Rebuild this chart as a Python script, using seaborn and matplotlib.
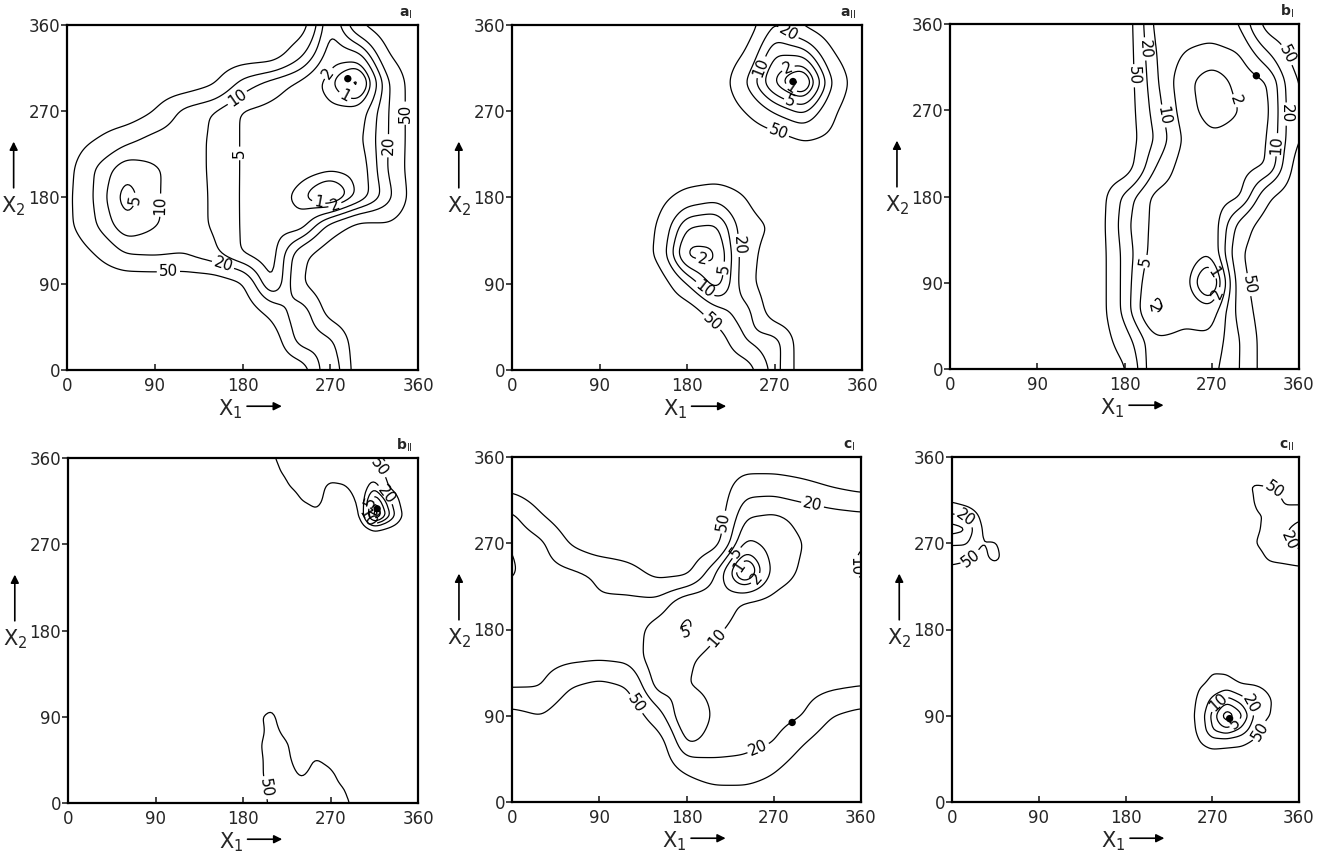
import numpy as np
import matplotlib
matplotlib.use('Agg')
import matplotlib.pyplot as plt
import seaborn as sns

# energy contour maps (kcal/mol) over the two torsion angles, 6 panels
LEVELS = [0, 1, 2, 5, 10, 20, 50]
HIGH = 100

# %%%%%%%%%%%%%%%%%%%%%%%%%%%%%%%%%%%%%%%%%%%%%%%%%%%%%%%%%%%%%%%%%%%%%%%%%%%%%
#                         DATA
# %%%%%%%%%%%%%%%%%%%%%%%%%%%%%%%%%%%%%%%%%%%%%%%%%%%%%%%%%%%%%%%%%%%%%%%%%%%%%
# 30 deg grids, rows from x2 = 360 (top) down to x2 = 0, columns x1 = 0..360
grid_a1 = [
    [100, 100, 100, 100, 100, 100, 100, 100, 100, 4, 50, 100, 100],
    [100, 100, 100, 100, 100, 100, 100, 100, 25, 3, 4, 55, 100],
    [100, 100, 100, 100, 100, 60, 15, 7, 4, 1.2, -0.6, 20, 100],
    [100, 100, 100, 50, 15, 9.5, 4.5, 4, 3.5, 2.5, 3, 20, 100],
    [80, 50, 25, 14, 12, 9.5, 4.5, 4, 5, 3, 4, 20, 100],
    [70, 18, 6, 9.5, 12, 9.5, 4.5, 4, 3, 2.5, 2.5, 22, 100],
    [65, 17, 3, 9.5, 13, 9.5, 4.5, 3.5, 1.2, -0.4, 2.5, 15, 100],
    [65, 20, 6, 9.5, 13, 9.5, 4.5, 4, 3, 30, 80, 60, 100],
    [100, 50, 20, 18, 20, 12, 4.5, 3, 40, 100, 100, 100, 100],
    [100, 100, 100, 100, 100, 100, 60, 3.5, 50, 100, 100, 100, 100],
    [100, 100, 100, 100, 100, 100, 100, 40, 10, 80, 100, 100, 100],
    [100, 100, 100, 100, 100, 100, 100, 100, 12, 15, 100, 100, 100],
    [100, 100, 100, 100, 100, 100, 100, 100, 100, 8, 100, 100, 100],
]
grid_a2 = [
    [100, 100, 100, 100, 100, 100, 100, 100, 100, 18, 60, 100, 100],
    [100, 100, 100, 100, 100, 100, 100, 100, 50, 5, 6, 50, 100],
    [100, 100, 100, 100, 100, 100, 100, 100, 20, 1.5, -0.6, 22, 100],
    [100, 100, 100, 100, 100, 100, 100, 100, 50, 18, 8, 45, 100],
    [100, 100, 100, 100, 100, 100, 100, 100, 100, 80, 50, 60, 100],
    [100, 100, 100, 100, 100, 100, 100, 100, 100, 100, 100, 100, 100],
    [100, 100, 100, 100, 100, 70, 35, 25, 50, 100, 100, 100, 100],
    [100, 100, 100, 100, 100, 50, 5, 4, 35, 55, 100, 100, 100],
    [100, 100, 100, 100, 100, 45, 1, 1.5, 35, 80, 100, 100, 100],
    [100, 100, 100, 100, 100, 100, 20, 2.5, 35, 100, 100, 100, 100],
    [100, 100, 100, 100, 100, 100, 100, 30, 12, 100, 100, 100, 100],
    [100, 100, 100, 100, 100, 100, 100, 100, 18, 12, 100, 100, 100],
    [100, 100, 100, 100, 100, 100, 100, 100, 100, 12, 100, 100, 100],
]
grid_b1 = [
    [100, 100, 100, 100, 100, 100, 100, 8, 7, 7, 10, 100, 100],
    [100, 100, 100, 100, 100, 100, 100, 10, 5, 4, 5, 20, 100],
    [100, 100, 100, 100, 100, 100, 100, 12, 3, 0.8, 3, 5, 60],
    [100, 100, 100, 100, 100, 100, 100, 15, 3.5, 1.0, 2, 4.5, 55],
    [100, 100, 100, 100, 100, 100, 100, 20, 4.5, 2.5, 3, 5, 55],
    [100, 100, 100, 100, 100, 100, 100, 10, 3.5, 3.5, 4, 5, 100],
    [100, 100, 100, 100, 100, 100, 15, 4, 3.5, 3.5, 4, 50, 100],
    [100, 100, 100, 100, 100, 100, 12, 4, 3.5, 2.5, 30, 100, 100],
    [100, 100, 100, 100, 100, 100, 15, 3.5, 3.5, 2, 50, 100, 100],
    [100, 100, 100, 100, 100, 100, 15, 2, 3.5, -0.5, 40, 100, 100],
    [100, 100, 100, 100, 100, 100, 15, 1.2, 4, 3, 30, 100, 100],
    [100, 100, 100, 100, 100, 100, 30, 6, 6, 6, 20, 100, 100],
    [100, 100, 100, 100, 100, 100, 60, 5, 7, 8, 20, 100, 100],
]
grid_c1 = [
    [100, 100, 100, 100, 100, 100, 100, 100, 100, 100, 100, 100, 100],
    [70, 100, 100, 100, 100, 100, 100, 100, 30, 30, 40, 55, 70],
    [17, 50, 100, 100, 100, 100, 100, 100, 11, 9, 12, 15, 17],
    [10, 16, 55, 100, 100, 100, 100, 80, 4, 7, 10, 13, 10],
    [9, 15, 17, 22, 35, 70, 70, 10, -0.6, 7, 11, 13, 9],
    [13, 15, 16, 19, 17, 17, 5.5, 6, 11, 12, 13, 13, 13],
    [14, 15, 16, 17, 15, 7, 4, 9, 13, 14, 15, 15, 14],
    [15, 15, 16, 17, 16, 6, 9, 13, 14, 15, 16, 17, 15],
    [18, 19, 50, 70, 50, 7, 10, 12, 13, 14, 15, 17, 19],
    [70, 50, 100, 100, 100, 30, 4, 12, 13, 14, 19, 50, 70],
    [100, 100, 100, 100, 100, 100, 9, 14, 16, 20, 50, 100, 100],
    [100, 100, 100, 100, 100, 100, 50, 30, 30, 50, 100, 100, 100],
    [100, 100, 100, 100, 100, 100, 100, 100, 100, 100, 100, 100, 100],
]

# 15 deg lattice, only the nodes below the "high" level: (x1, x2, energy)
nodes_b2 = [
    (210, 360, 52), (225, 360, 42), (240, 360, 40), (255, 360, 40), (270, 360, 40),
    (285, 360, 40), (300, 360, 32), (315, 360, 55),
    (210, 345, 60), (225, 345, 44), (240, 345, 40), (255, 345, 40), (270, 345, 41),
    (285, 345, 40), (300, 345, 25), (315, 345, 35), (330, 345, 65),
    (225, 330, 52), (240, 330, 43), (255, 330, 42), (270, 330, 55), (285, 330, 52),
    (300, 330, 40), (315, 330, 12), (330, 330, 55),
    (225, 315, 70), (240, 315, 50), (255, 315, 44), (270, 315, 60), (285, 315, 65),
    (300, 315, 45), (315, 315, 1.5), (330, 315, 15), (345, 315, 80),
    (240, 300, 70), (255, 300, 55), (270, 300, 65), (285, 300, 80), (300, 300, 55),
    (315, 300, -0.3), (330, 300, 8), (345, 300, 60),
    (315, 285, 50), (330, 285, 70),
    (195, 0, 60), (210, 0, 46), (225, 0, 42), (240, 0, 42), (255, 0, 42), (270, 0, 42),
    (285, 0, 46), (300, 0, 60),
    (195, 15, 58), (210, 15, 44), (225, 15, 42), (240, 15, 44), (255, 15, 44),
    (270, 15, 44), (285, 15, 50), (300, 15, 70),
    (195, 30, 55), (210, 30, 43), (225, 30, 44), (240, 30, 52), (255, 30, 45),
    (270, 30, 46), (285, 30, 60),
    (195, 45, 54), (210, 45, 44), (225, 45, 46), (240, 45, 60), (255, 45, 48),
    (270, 45, 55), (285, 45, 80),
    (195, 60, 52), (210, 60, 44), (225, 60, 47), (240, 60, 70), (255, 60, 70), (270, 60, 80),
    (195, 75, 55), (210, 75, 45), (225, 75, 55), (240, 75, 80),
    (195, 90, 52), (210, 90, 46), (225, 90, 65),
    (195, 105, 60), (210, 105, 55), (225, 105, 80),
]
nodes_c2 = [
    (0, 315, 60), (0, 300, 18), (0, 285, 7), (0, 270, 18), (0, 255, 35), (0, 240, 70),
    (15, 315, 80), (15, 300, 25), (15, 285, 9), (15, 270, 18), (15, 255, 40), (15, 240, 85),
    (30, 300, 60), (30, 285, 48), (30, 270, 50), (30, 255, 70),
    (45, 270, 45), (45, 255, 35),
    (360, 315, 70), (360, 300, 25), (360, 285, 15), (360, 270, 15), (360, 255, 30), (360, 240, 70),
    (345, 315, 60), (345, 300, 35), (345, 285, 22), (345, 270, 22), (345, 255, 35), (345, 240, 80),
    (330, 330, 55), (330, 315, 18), (330, 300, 45), (330, 285, 35), (330, 270, 30),
    (330, 255, 40), (330, 240, 90),
    (315, 330, 45), (315, 315, 45), (315, 300, 55), (315, 285, 60), (315, 270, 50), (315, 255, 80),
    (300, 330, 60),
    (255, 60, 60), (270, 60, 35), (285, 60, 40), (300, 60, 45), (315, 60, 70),
    (255, 75, 45), (270, 75, 10), (285, 75, 6), (300, 75, 12), (315, 75, 35),
    (255, 90, 40), (270, 90, 8), (285, 90, 0.5), (300, 90, 4), (315, 90, 25), (330, 90, 50),
    (255, 105, 45), (270, 105, 15), (285, 105, 6), (300, 105, 12), (315, 105, 30), (330, 105, 45),
    (255, 120, 55), (270, 120, 35), (285, 120, 25), (300, 120, 40), (315, 120, 45), (330, 120, 60),
    (270, 135, 50), (285, 135, 55),
]

panel_names = ['a$_{\\rm I}$', 'a$_{\\rm II}$', 'b$_{\\rm I}$',
               'b$_{\\rm II}$', 'c$_{\\rm I}$', 'c$_{\\rm II}$']
# marked conformations (filled dots)
dot_x1 = [288, 289, 316, 318, 289, 288]
dot_x2 = [304, 301, 306, 307, 83, 87]
ticks = [0, 90, 180, 270, 360]


def dense(rows):
    # rows are listed top (360) to bottom (0)
    return np.array(rows, float)[::-1], 30


def sparse(nodes, step=15):
    n = 360 // step + 1
    g = np.full((n, n), float(HIGH))
    for x1, x2, e in nodes:
        g[x2 // step, x1 // step] = e
    return g, step


def smooth_field(grid, step):
    nodes = np.arange(grid.shape[0]) * step
    fine = np.arange(0, 361, 2.0)
    t = np.log(grid + 1.5)
    tx = np.array([np.interp(fine, nodes, r) for r in t])
    t2 = np.array([np.interp(fine, nodes, c) for c in tx.T]).T
    sig = step / 5 / 2.0
    r = int(3 * sig) + 1
    k = np.exp(-0.5 * (np.arange(-r, r + 1) / sig) ** 2)
    k /= k.sum()
    p = np.pad(t2, r, mode='edge')
    p = np.apply_along_axis(lambda v: np.convolve(v, k, mode='valid'), 0, p)
    p = np.apply_along_axis(lambda v: np.convolve(v, k, mode='valid'), 1, p)
    return fine, np.exp(p) - 1.5


fields = [dense(grid_a1), dense(grid_a2), dense(grid_b1),
          sparse(nodes_b2), dense(grid_c1), sparse(nodes_c2)]

# %%%%%%%%%%%%%%%%%%%%%%%%%%%%%%%%%%%%%%%%%%%%%%%%%%%%%%%%%%%%%%%%%%%%%%%%%%%%%
#                         PLOT
# %%%%%%%%%%%%%%%%%%%%%%%%%%%%%%%%%%%%%%%%%%%%%%%%%%%%%%%%%%%%%%%%%%%%%%%%%%%%%
sns.set_theme(style='white')
plt.rcParams['font.family'] = ['DejaVu Sans']

fig = plt.figure(figsize=(13.17, 8.52), dpi=100)
W, H = 1317, 852
boxes = [(67, 25, 351, 345), (512, 25, 350, 345), (950, 24, 349, 345),
         (68, 458, 350, 345), (512, 457, 349, 345), (952, 457, 347, 345)]

for i, (box, (grid, step)) in enumerate(zip(boxes, fields)):
    left, top, w, h = box
    ax = fig.add_axes([left / W, 1 - (top + h) / H, w / W, h / H])
    xs, Z = smooth_field(grid, step)
    cs = ax.contour(xs, xs, Z, levels=LEVELS, colors='black', linewidths=0.9)
    ax.clabel(cs, fmt=lambda v: f'{v:g}', fontsize=11, inline=True, inline_spacing=2)
    sns.scatterplot(x=[dot_x1[i]], y=[dot_x2[i]], color='black', s=28,
                    edgecolor='none', legend=False, ax=ax, zorder=5)

    ax.set_xlim(0, 360)
    ax.set_ylim(0, 360)
    ax.set_xticks(ticks)
    ax.set_yticks(ticks)
    ax.tick_params(axis='x', direction='in', length=4, width=1.2, labelsize=12, pad=5)
    ax.tick_params(axis='y', direction='out', length=4, width=1.2, labelsize=12, pad=1)
    ax.tick_params(left=True, bottom=True)
    for s in ax.spines.values():
        s.set_linewidth(1.6)
        s.set_color('black')

    # axis labels with arrows
    ax.text(0.465, -0.115, 'X$_1$', transform=ax.transAxes, fontsize=15,
            ha='center', va='center')
    ax.annotate('', xy=(0.62, -0.105), xytext=(0.505, -0.105), xycoords='axes fraction',
                arrowprops=dict(arrowstyle='-|>', color='black', lw=1.2,
                                mutation_scale=12), annotation_clip=False)
    ax.text(-0.152, 0.475, 'X$_2$', transform=ax.transAxes, fontsize=15,
            ha='center', va='center')
    ax.annotate('', xy=(-0.152, 0.67), xytext=(-0.152, 0.52), xycoords='axes fraction',
                arrowprops=dict(arrowstyle='-|>', color='black', lw=1.2,
                                mutation_scale=12), annotation_clip=False)
    ax.text(0.985, 1.012, panel_names[i], transform=ax.transAxes, fontsize=10,
            fontweight='bold', ha='right', va='bottom')

fig.savefig('out.png', dpi=100)
